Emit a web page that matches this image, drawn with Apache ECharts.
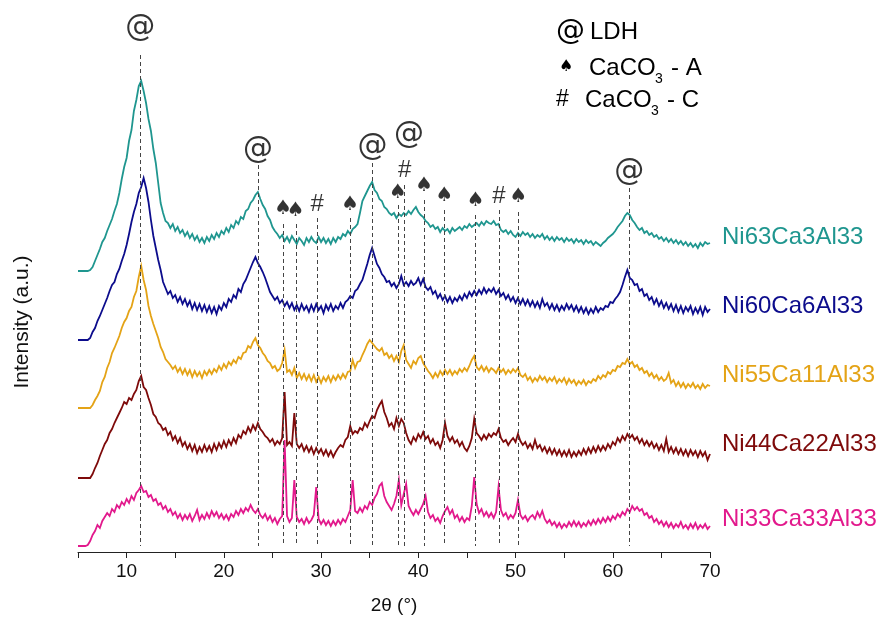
<!DOCTYPE html>
<html><head><meta charset="utf-8">
<script src="https://cdn.jsdelivr.net/npm/echarts@6/dist/echarts.min.js"></script>
<style>html,body{margin:0;padding:0;background:#fff}#c{width:885px;height:622px}</style>
</head><body><div id="c"></div>
<script>
// sampling grid of the diffractograms (2θ, degrees)
const twoThetaStart = 5, twoThetaStep = 0.25;

const sampleNames = ['Ni63Ca3Al33', 'Ni60Ca6Al33', 'Ni55Ca11Al33', 'Ni44Ca22Al33', 'Ni33Ca33Al33'];
const sampleColors = ['#1f968f', '#0c0c8c', '#e4a316', '#7e0a0a', '#e2198c'];
// vertical stacking offsets (a.u.)
const offsets = [281, 212, 144, 74, 6];

// relative intensities (a.u.), one value per 0.25° from 5° to 70°
const ni63 = [
0,0,0,0, 0,1,4,10, 16,22,29,33, 40,46,52,60, 67,78,92,104,
113,130,141,160, 171,185,190,180, 168,152,140,122, 108,88,68,58, 50,48,43,47,
40,44,38,41, 35,39,33,37, 31,35,29,33, 28,34,30,36, 32,38,34,40,
37,43,39,46, 43,50,47,54, 52,60,62,68, 71,76,79,72, 66,62,55,51,
44,40,37,33, 36,30,34,29, 35,31,27,33, 30,26,33,29, 34,30,28,34,
29,33,28,32, 27,33,29,34, 32,37,35,40, 37,42,44,47, 58,70,75,80,
85,89,81,78, 72,70,64,62, 58,56,58,53, 57,55,58,56, 60,57,61,64,
59,56,54,50, 48,44,46,42, 44,39,43,40, 42,38,43,40, 42,44,41,45,
43,47,44,46, 48,45,49,46, 50,48,47,50, 46,47,41,39, 41,37,40,36,
34,38,35,39, 36,38,34,37, 33,36,34,37, 32,35,31,34, 30,34,31,33,
29,33,30,32, 28,32,29,31, 27,31,28,30, 26,29,27,25, 28,30,33,35,
37,40,44,47, 50,55,58,56, 51,48,44,41, 43,38,40,36, 38,34,36,32,
34,30,33,29, 32,28,31,27, 30,26,29,25, 28,24,27,23, 28,25,29,27,
28];
const ni60 = [
0,0,0,0, 0,2,8,12, 19,24,30,36, 42,49,55,58, 66,71,79,86,
95,106,118,128, 136,147,153,162, 152,138,120,104, 92,80,70,58, 52,46,49,42,
45,38,43,36, 41,34,39,31, 37,30,36,29, 35,28,34,27, 33,26,34,30,
37,33,41,38, 45,42,51,48, 56,60,66,72, 78,83,77,73, 68,62,55,48,
44,40,43,37, 40,34,38,32, 37,30,35,29, 36,30,34,28, 35,29,36,30,
34,27,35,30, 36,29,34,31, 37,32,38,40, 44,42,49,51, 56,60,68,76,
85,92,84,76, 72,66,63,58, 59,54,57,52, 56,64,55,58, 54,59,55,57,
62,55,61,53, 50,53,46,49, 42,46,40,44, 38,43,37,42, 39,44,40,46,
42,48,44,49, 45,50,46,52, 47,51,48,52, 46,50,44,47, 41,45,39,43,
37,42,36,41, 35,40,34,39, 33,38,32,41, 34,37,31,36, 30,35,29,34,
30,36,31,35, 29,34,28,33, 27,32,26,31, 27,33,28,32, 30,34,33,38,
37,41,44,48, 55,63,70,62, 60,55,56,49, 51,44,46,40, 43,36,41,34,
39,32,37,31, 36,29,35,28, 34,27,33,29, 34,26,32,27, 33,25,33,28,
31];
const ni55 = [
0,0,0,0, 0,0,3,8, 12,17,26,31, 40,46,55,60, 66,72,80,86,
90,97,101,111, 117,131,142,128, 118,102,92,84, 77,70,61,56, 49,46,43,39,
42,36,40,34, 39,33,38,31, 37,32,36,30, 37,33,38,34, 39,36,42,38,
44,40,46,43, 48,45,51,49, 55,56,62,60, 66,70,63,60, 55,52,47,45,
40,42,37,39, 45,58,36,38, 33,40,30,35, 29,34,28,33, 27,33,26,31,
25,31,27,32, 26,32,28,33, 29,34,30,36, 37,48,40,46, 47,53,58,64,
68,65,62,59, 57,60,53,55, 50,53,47,52, 46,57,63,48, 44,40,47,44,
50,52,45,41, 37,34,30,35, 31,37,33,38, 34,38,33,37, 34,39,36,40,
37,42,48,52, 41,38,42,37, 41,36,40,38, 35,40,36,39, 34,38,35,39,
36,40,33,31, 34,28,31,26, 30,27,32,28, 31,26,30,27, 31,25,29,26,
30,24,29,25, 28,23,27,24, 28,23,27,25, 29,27,32,29, 33,31,36,34,
38,37,42,41, 45,44,49,44, 46,41,43,38, 40,35,37,32, 35,30,33,28,
31,27,29,35, 25,28,22,26, 21,25,20,24, 21,25,20,23, 19,24,20,23,
22];
const ni44 = [
0,0,0,0, 0,0,4,10, 15,22,28,34, 38,45,49,55, 60,65,70,76,
74,80,78,84, 88,97,102,91, 88,80,73,64, 61,55,53,48, 50,43,46,38,
42,35,40,32, 36,29,34,27, 33,25,31,26, 33,27,32,26, 34,28,35,30,
37,31,38,33, 40,35,43,40, 47,44,51,46, 53,48,55,49, 46,42,40,36,
39,33,37,34, 40,86,33,36, 32,65,34,30, 34,27,32,26, 31,24,30,25,
29,23,28,22, 27,21,26,30, 33,31,38,41, 52,44,47,45, 50,48,55,51,
57,62,60,68, 73,77,66,60, 52,55,49,60, 52,59,55,45, 38,34,41,37,
44,40,46,39, 42,35,39,33, 36,30,38,55, 42,37,41,35, 38,32,36,30,
27,32,40,59, 45,42,38,43, 39,44,41,45, 43,49,40,36, 38,33,37,40,
36,44,37,33, 36,30,34,29, 38,30,33,27, 31,25,30,24, 29,23,28,22,
27,22,28,21, 26,22,27,23, 29,24,30,25, 31,26,32,27, 32,28,34,30,
36,33,40,36, 42,38,44,40, 43,38,41,35, 39,33,37,32, 36,30,34,28,
33,27,39,26, 31,25,30,24, 29,23,28,22, 28,23,27,21, 27,22,26,18,
24];
const ni33 = [
0,0,0,0, 1,5,11,15, 21,18,25,29, 33,30,37,34, 41,38,44,41,
47,43,50,46, 53,56,60,54, 55,49,51,45, 47,41,43,37, 40,34,37,31,
34,28,32,26, 31,27,32,25, 30,36,26,31, 27,33,28,35, 30,34,28,32,
27,31,26,32, 29,35,31,37, 33,38,35,41, 36,33,37,31, 28,32,26,30,
24,28,22,27, 30,106,30,24, 28,66,29,24, 27,22,28,23, 26,31,59,27,
22,26,21,25, 20,25,21,26, 22,27,24,30, 36,66,35,33, 38,34,40,37,
44,41,48,52, 60,63,50,44, 40,36,42,50, 66,41,52,62, 40,35,31,36,
32,37,42,50, 34,28,31,25, 28,23,30,35, 39,32,36,28, 31,25,29,24,
28,26,40,69, 42,33,37,30, 34,29,33,28, 34,59,36,30, 33,27,31,28,
33,46,31,27, 30,25,29,31, 27,34,29,35, 27,23,26,21, 24,19,23,18,
22,19,24,20, 25,20,24,19, 23,20,25,21, 26,22,27,23, 28,24,29,25,
30,27,32,29, 34,31,37,34, 40,36,39,35, 37,31,33,28, 30,24,27,22,
25,20,24,19, 23,18,22,19, 24,18,21,17, 22,18,23,17, 21,18,22,17,
20];
const intensities = [ni63, ni60, ni55, ni44, ni33];

// reflection markers: position (2θ), symbol, label height (a.u.), top of dashed guide (a.u.)
const refTheta  = [11.4, 23.5, 26.1, 27.4, 29.6, 33.0, 35.3, 37.9, 38.6, 40.6, 42.7, 45.9, 48.3, 50.3, 61.7];
const refSymbol = ['@', '@', '♠', '♠', '#', '♠', '@', '♠', '#', '♠', '♠', '♠', '#', '♠', '@'];
const refLabelY = [524, 402, 343, 341, 348, 347, 405, 359, 382, 366, 356, 351, 356, 355, 380];
const refLineTop = [497, 387, 328, 328, 334, 334, 389, 347, 367, 352, 342, 337, 342, 340, 364];
const refLineBottom = 6;
const extraAt = {theta: 39.05, y: 417, text: '@'};

const chart = echarts.init(document.getElementById('c'), null, {renderer: 'canvas'});
const FONT = 'Liberation Sans, Arial, sans-serif';

function pairs(vals, off) {
  return vals.map((v, i) => [twoThetaStart + i * twoThetaStep, v + off]);
}

const series = sampleNames.map((nm, k) => ({
  name: nm, type: 'line', data: pairs(intensities[k], offsets[k]),
  showSymbol: false, symbol: 'none', silent: true,
  lineStyle: {color: sampleColors[k], width: 1.8, join: 'miter'}, z: 3
}));

series.push({
  type: 'line', data: [], silent: true, symbol: 'none',
  markLine: {
    silent: true, symbol: ['none', 'none'], label: {show: false},
    lineStyle: {color: '#444', type: [4, 3], width: 1},
    data: refTheta.map((t, i) => [{coord: [t, refLineTop[i]]}, {coord: [t, refLineBottom]}])
  }, z: 2
});

function symStyle(s) {
  if (s === '@') return {fontSize: 30, fontFamily: 'DejaVu Sans, sans-serif'};
  if (s === '♠') return {fontSize: 20, fontFamily: 'DejaVu Sans, sans-serif'};
  return {fontSize: 24, fontFamily: FONT};
}
const annData = refTheta.map((t, i) => ({
  value: [t, refLabelY[i]],
  label: Object.assign({show: true, position: 'inside', formatter: refSymbol[i], color: '#000'}, symStyle(refSymbol[i]))
}));
annData.push({value: [extraAt.theta, extraAt.y],
  label: Object.assign({show: true, position: 'inside', formatter: extraAt.text, color: '#000'}, symStyle('@'))});
series.push({type: 'scatter', data: annData, symbolSize: 1, itemStyle: {color: 'rgba(0,0,0,0)'}, silent: true, z: 5});

const labelY = [238, 307, 376, 445, 520];
const graphics = sampleNames.map((nm, k) => ({
  type: 'text', left: 722, top: labelY[k] - 13,
  style: {text: nm, fill: sampleColors[k], font: '24px ' + FONT}
}));
graphics.push(
  {type: 'text', x: 22, y: 322, rotation: Math.PI / 2,
   style: {text: 'Intensity (a.u.)', fill: '#111', font: '21px ' + FONT, align: 'center', verticalAlign: 'middle'}},
  {type: 'text', left: 556, top: 17, style: {text: '@', fill: '#000', font: '29px DejaVu Sans'}},
  {type: 'text', left: 590, top: 20, style: {text: 'LDH', fill: '#000', font: '24px ' + FONT}},
  {type: 'text', left: 559, top: 59, style: {text: '♠', fill: '#000', font: '16px DejaVu Sans'}},
  {type: 'text', left: 589, top: 56, style: {text: 'CaCO', fill: '#000', font: '24px ' + FONT}},
  {type: 'text', left: 655, top: 72, style: {text: '3', fill: '#000', font: '14px ' + FONT}},
  {type: 'text', left: 671, top: 56, style: {text: '- A', fill: '#000', font: '24px ' + FONT}},
  {type: 'text', left: 556, top: 88, style: {text: '#', fill: '#000', font: '23px ' + FONT}},
  {type: 'text', left: 585, top: 88, style: {text: 'CaCO', fill: '#000', font: '24px ' + FONT}},
  {type: 'text', left: 651, top: 104, style: {text: '3', fill: '#000', font: '14px ' + FONT}},
  {type: 'text', left: 667, top: 88, style: {text: '- C', fill: '#000', font: '24px ' + FONT}}
);

chart.setOption({
  animation: false,
  backgroundColor: '#fff',
  grid: {left: 78, right: 175, top: 0, bottom: 70, containLabel: false},
  xAxis: {
    type: 'value', min: 5, max: 70, interval: 5,
    name: '2θ (°)', nameLocation: 'middle', nameGap: 44,
    nameTextStyle: {fontSize: 19, color: '#111', fontFamily: FONT},
    axisLine: {lineStyle: {color: '#222', width: 1}},
    axisTick: {show: true, inside: false, length: 6, lineStyle: {color: '#222'}},
    axisLabel: {formatter: v => (v % 10 === 0 ? String(v) : ''), fontSize: 19, color: '#111', fontFamily: FONT, margin: 10, showMaxLabel: true, showMinLabel: true},
    splitLine: {show: false}
  },
  yAxis: {type: 'value', min: 0, max: 552, show: false},
  series: series,
  graphic: graphics
});
</script></body></html>
